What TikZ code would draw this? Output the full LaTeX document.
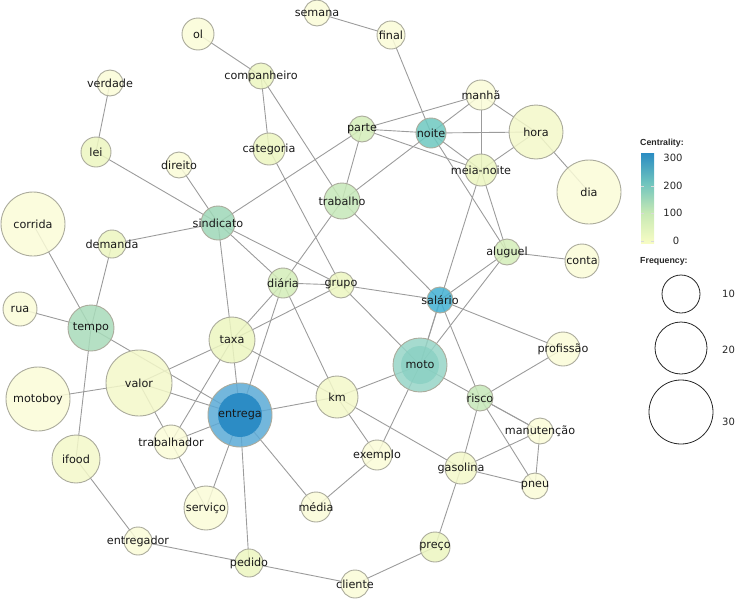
\documentclass[tikz,border=0pt]{standalone}
\usepackage{fontspec}
\setmainfont{DejaVu Sans}
\newfontfamily\legfont{Liberation Sans}
\usetikzlibrary{backgrounds}
\definecolor{edgec}{HTML}{9C9C9C}
\definecolor{bordc}{HTML}{ABAB9C}
\definecolor{cY}{HTML}{FAFBD7}
\definecolor{cYa}{HTML}{F3F8C9}
\definecolor{cYG}{HTML}{ECF6C0}
\definecolor{cLG}{HTML}{D4EDB8}
\definecolor{cLGb}{HTML}{C6E8B8}
\definecolor{cG}{HTML}{9ED7B7}
\definecolor{cGt}{HTML}{A8DBBA}
\definecolor{cNoite}{HTML}{6DC8C0}
\definecolor{cSal}{HTML}{42B0D2}
\definecolor{cMoto}{HTML}{96D5C7}
\definecolor{cMotoIn}{HTML}{86CFC1}
\definecolor{cEnt}{HTML}{5BAAD6}
\definecolor{cEntIn}{HTML}{2C8CC5}
\definecolor{cb0}{HTML}{F7FCC4}
\definecolor{cb1}{HTML}{C7E9B4}
\definecolor{cb2}{HTML}{6FC4BE}
\definecolor{cb3}{HTML}{2A8CC2}
\pgfdeclarelayer{fg}
\pgfsetlayers{background,main,fg}
\pgfdeclareverticalshading{cbar}{100bp}{color(0bp)=(cb0); color(25bp)=(cb0); color(41.67bp)=(cb1); color(58.33bp)=(cb2); color(75bp)=(cb3); color(100bp)=(cb3)}
\tikzset{
  wc/.style={circle, draw=bordc, line width=0.9pt, inner sep=0pt, fill opacity=0.85},
  wt/.style={inner sep=0pt, font=\fontsize{11.2}{13}\selectfont, text=black!90},
  edge/.style={draw=edgec, line width=0.9pt},
  legt/.style={font=\legfont\bfseries\fontsize{8.8}{10}\selectfont, anchor=west, inner sep=0pt, text=black!85},
  legn/.style={font=\fontsize{10}{12}\selectfont, inner sep=0pt, text=black!85},
  legc/.style={circle, draw=black!85, line width=0.8pt, inner sep=0pt}
}
\newcommand\wnode[6]{%
  \node[wc, fill=#5, minimum size=#4*2pt] (#1) at (#2,#3) {};
  \begin{pgfonlayer}{fg}\node[wt] (#1-t) at (#2,#3) {#6};\end{pgfonlayer}}
\begin{document}
\begin{tikzpicture}[x=1pt,y=-1pt]
\useasboundingbox (0,0) rectangle (737,600);
% nodes
\wnode{semana}{317}{13}{13}{cY}{semana}
\wnode{final}{391}{35}{14}{cY}{final}
\wnode{ol}{198}{34}{16}{cY}{ol}
\wnode{companheiro}{261}{76}{13}{cYG}{companheiro}
\wnode{verdade}{110}{83}{13}{cY}{verdade}
\wnode{manha}{481}{95}{15}{cY}{manhã}
\wnode{parte}{362}{129}{13}{cLG}{parte}
\wnode{noite}{431}{133}{15}{cNoite}{noite}
\wnode{hora}{536}{132}{27}{cYa}{hora}
\wnode{lei}{96}{152}{15}{cYG}{lei}
\wnode{direito}{179}{165}{13}{cY}{direito}
\wnode{categoria}{269}{149}{16}{cYG}{categoria}
\wnode{meianoite}{481}{170}{16}{cYG}{meia-noite}
\wnode{dia}{589}{192}{32}{cY}{dia}
\wnode{trabalho}{342}{201}{18}{cLGb}{trabalho}
\wnode{sindicato}{218}{223}{17}{cG}{sindicato}
\wnode{corrida}{33}{224}{32}{cY}{corrida}
\wnode{demanda}{112}{244}{14}{cYG}{demanda}
\wnode{aluguel}{507}{252}{13}{cLG}{aluguel}
\wnode{conta}{582}{261}{17}{cY}{conta}
\wnode{diaria}{283}{283}{15}{cLG}{diária}
\wnode{grupo}{341}{285}{13}{cYG}{grupo}
\wnode{salario}{440}{300}{13}{cSal}{salário}
\wnode{rua}{20}{309}{17}{cY}{rua}
\wnode{tempo}{91}{328}{23}{cGt}{tempo}
\wnode{taxa}{232}{340}{23}{cYG}{taxa}
\wnode{moto}{420}{365}{27}{cMoto}{moto}
\wnode{profissao}{563}{349}{17}{cY}{profissão}
\wnode{valor}{139}{383}{33}{cYa}{valor}
\wnode{motoboy}{38}{399}{32}{cY}{motoboy}
\wnode{entrega}{240}{415}{32}{cEnt}{entrega}
\wnode{km}{337}{397}{21}{cYa}{km}
\wnode{risco}{480}{398}{13}{cLGb}{risco}
\wnode{trabalhador}{171}{442}{17}{cY}{trabalhador}
\wnode{manutencao}{540}{431}{13}{cY}{manutenção}
\wnode{ifood}{76}{459}{24}{cYa}{ifood}
\wnode{exemplo}{377}{455}{15}{cY}{exemplo}
\wnode{gasolina}{461}{468}{16}{cYa}{gasolina}
\wnode{pneu}{535}{486}{13}{cY}{pneu}
\wnode{servico}{206}{508}{22}{cY}{serviço}
\wnode{media}{316}{507}{15}{cY}{média}
\wnode{entregador}{138}{541}{14}{cY}{entregador}
\wnode{preco}{435}{547}{15}{cYG}{preço}
\wnode{pedido}{249}{563}{14}{cYG}{pedido}
\wnode{cliente}{355}{584}{14}{cY}{cliente}
% inner rings
\node[circle, inner sep=0pt, fill=cEntIn, minimum size=44pt] (entrega-in) at (entrega) {};
\node[circle, inner sep=0pt, fill=cMotoIn, minimum size=38pt, fill opacity=0.7] (moto-in) at (moto) {};
% edges
\begin{scope}[on background layer]
\foreach \a/\b in {semana/final, ol/companheiro, companheiro/categoria, companheiro/trabalho,
  verdade/lei, lei/sindicato, direito/sindicato, categoria/grupo, parte/sindicato,
  sindicato/demanda, sindicato/diaria, sindicato/grupo, sindicato/taxa, corrida/tempo,
  demanda/tempo, final/noite, manha/parte, manha/noite, manha/meianoite, manha/hora,
  parte/noite, noite/hora, parte/meianoite, parte/trabalho, noite/trabalho, noite/meianoite,
  noite/aluguel, hora/meianoite, hora/dia, meianoite/aluguel, meianoite/moto,
  trabalho/diaria, trabalho/salario, aluguel/conta, aluguel/salario, aluguel/moto,
  diaria/grupo, diaria/taxa, diaria/entrega, diaria/km, grupo/taxa, grupo/salario,
  grupo/moto, salario/moto, salario/profissao, salario/risco, moto/km, moto/exemplo,
  moto/manutencao, risco/manutencao, rua/tempo, tempo/ifood, tempo/entrega,
  motoboy/valor, valor/taxa, valor/trabalhador, valor/entrega, taxa/entrega, taxa/km,
  taxa/trabalhador, entrega/km, entrega/trabalhador, entrega/servico, entrega/media,
  entrega/pedido, trabalhador/servico, km/exemplo, km/gasolina, exemplo/media,
  ifood/entregador, entregador/pedido, pedido/cliente, cliente/preco, preco/gasolina,
  risco/profissao, risco/gasolina, risco/pneu, manutencao/gasolina, manutencao/pneu,
  gasolina/pneu}
  \draw[edge] (\a.center) -- (\b.center);
\end{scope}
% legend
\node[legt] (centT) at (640,143) {Centrality:};
\shade[shading=cbar] (641,153) rectangle (654,243);
\foreach \yy in {186,213,241} {
  \draw[white!70!gray, line width=0.8pt] (641,\yy) -- (644,\yy);
  \draw[white!70!gray, line width=0.8pt] (651,\yy) -- (654,\yy);
}
\node[legn] (l300) at (673,158) {300};
\node[legn] (l200) at (673,186) {200};
\node[legn] (l100) at (673,213) {100};
\node[legn] (l0) at (676,241) {0};
\node[legt] (freqT) at (640,261) {Frequency:};
\node[legc, minimum size=38pt] (f10) at (681,294) {};
\node[legc, minimum size=52pt] (f20) at (681,348) {};
\node[legc, minimum size=64pt] (f30) at (681,412) {};
\node[legn, anchor=west] (t10) at (722,294) {10};
\node[legn, anchor=west] (t20) at (722,350) {20};
\node[legn, anchor=west] (t30) at (722,422) {30};
\end{tikzpicture}
\end{document}
